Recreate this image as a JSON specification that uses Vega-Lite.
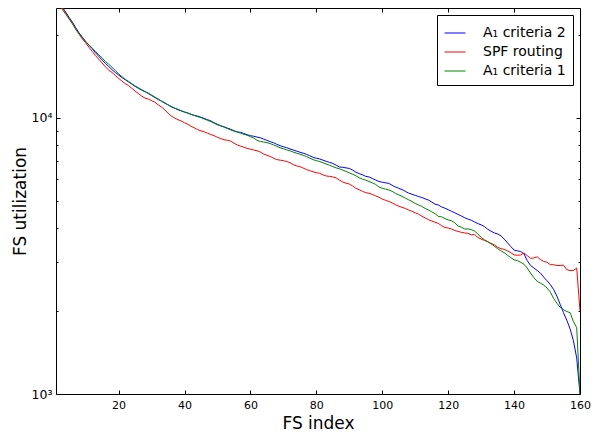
{
  "$schema": "https://vega.github.io/schema/vega-lite/v6.json",
  "width": 524,
  "height": 386,
  "autosize": {"type": "none"},
  "padding": {"left": 56, "top": 8, "right": 26, "bottom": 43},
  "background": "white",
  "config": {
    "view": {"stroke": "black", "strokeWidth": 1},
    "axis": {
      "grid": false, "domain": false, "tickColor": "black", "tickWidth": 1, "labelFlush": false,
      "labelColor": "black", "labelFont": "DejaVu Sans", "labelFontSize": 11,
      "titleFont": "DejaVu Sans", "titleFontSize": 17, "titleFontWeight": "normal", "titleColor": "black"
    }
  },
  "data": {"values": [
{"i":1,"a2":27800,"spf":27800,"a1":26800},{"i":2,"a2":26300,"spf":26500,"a1":25600},{"i":3,"a2":25100,"spf":25000,"a1":24600},{"i":4,"a2":24100,"spf":23900,"a1":23700},{"i":5,"a2":23100,"spf":22900,"a1":22800},
{"i":6,"a2":22200,"spf":22000,"a1":21900},{"i":7,"a2":21200,"spf":20900,"a1":21000},{"i":8,"a2":20300,"spf":20100,"a1":20200},{"i":9,"a2":19600,"spf":19300,"a1":19500},{"i":10,"a2":18900,"spf":18700,"a1":18900},
{"i":11,"a2":18300,"spf":18000,"a1":18400},{"i":12,"a2":17800,"spf":17400,"a1":17900},{"i":13,"a2":17200,"spf":16800,"a1":17400},{"i":14,"a2":16700,"spf":16300,"a1":16900},{"i":15,"a2":16200,"spf":15800,"a1":16500},
{"i":16,"a2":15750,"spf":15300,"a1":16000},{"i":17,"a2":15350,"spf":14900,"a1":15650},{"i":18,"a2":14950,"spf":14600,"a1":15250},{"i":19,"a2":14600,"spf":14250,"a1":14850},{"i":20,"a2":14300,"spf":13900,"a1":14450},
{"i":21,"a2":14000,"spf":13600,"a1":14100},{"i":22,"a2":13750,"spf":13300,"a1":13800},{"i":23,"a2":13500,"spf":13100,"a1":13550},{"i":24,"a2":13250,"spf":12800,"a1":13300},{"i":25,"a2":13000,"spf":12500,"a1":13050},
{"i":26,"a2":12800,"spf":12250,"a1":12850},{"i":27,"a2":12600,"spf":12000,"a1":12650},{"i":28,"a2":12450,"spf":11800,"a1":12450},{"i":29,"a2":12250,"spf":11700,"a1":12300},{"i":30,"a2":12050,"spf":11550,"a1":12100},
{"i":31,"a2":11850,"spf":11400,"a1":11900},{"i":32,"a2":11650,"spf":11150,"a1":11700},{"i":33,"a2":11500,"spf":10950,"a1":11500},{"i":34,"a2":11300,"spf":10700,"a1":11350},{"i":35,"a2":11150,"spf":10400,"a1":11150},
{"i":36,"a2":10950,"spf":10150,"a1":11000},{"i":37,"a2":10850,"spf":9990,"a1":10850},{"i":38,"a2":10700,"spf":9850,"a1":10750},{"i":39,"a2":10600,"spf":9750,"a1":10600},{"i":40,"a2":10500,"spf":9600,"a1":10500},
{"i":41,"a2":10400,"spf":9480,"a1":10420},{"i":42,"a2":10300,"spf":9320,"a1":10300},{"i":43,"a2":10200,"spf":9200,"a1":10200},{"i":44,"a2":10150,"spf":9060,"a1":10100},{"i":45,"a2":10050,"spf":8970,"a1":10020},
{"i":46,"a2":9950,"spf":8900,"a1":9900},{"i":47,"a2":9850,"spf":8800,"a1":9800},{"i":48,"a2":9750,"spf":8700,"a1":9700},{"i":49,"a2":9600,"spf":8620,"a1":9560},{"i":50,"a2":9480,"spf":8500,"a1":9430},
{"i":51,"a2":9350,"spf":8420,"a1":9380},{"i":52,"a2":9280,"spf":8330,"a1":9260},{"i":53,"a2":9180,"spf":8300,"a1":9150},{"i":54,"a2":9100,"spf":8240,"a1":9040},{"i":55,"a2":8980,"spf":8100,"a1":8960},
{"i":56,"a2":8900,"spf":7980,"a1":8880},{"i":57,"a2":8860,"spf":7900,"a1":8800},{"i":58,"a2":8780,"spf":7830,"a1":8720},{"i":59,"a2":8690,"spf":7750,"a1":8650},{"i":60,"a2":8620,"spf":7700,"a1":8550},
{"i":61,"a2":8580,"spf":7650,"a1":8450},{"i":62,"a2":8520,"spf":7600,"a1":8300},{"i":63,"a2":8470,"spf":7520,"a1":8210},{"i":64,"a2":8380,"spf":7400,"a1":8180},{"i":65,"a2":8290,"spf":7320,"a1":8130},
{"i":66,"a2":8200,"spf":7250,"a1":8070},{"i":67,"a2":8130,"spf":7150,"a1":7980},{"i":68,"a2":8020,"spf":7060,"a1":7890},{"i":69,"a2":7930,"spf":7030,"a1":7790},{"i":70,"a2":7860,"spf":7000,"a1":7730},
{"i":71,"a2":7800,"spf":6950,"a1":7660},{"i":72,"a2":7720,"spf":6880,"a1":7600},{"i":73,"a2":7650,"spf":6770,"a1":7520},{"i":74,"a2":7580,"spf":6700,"a1":7450},{"i":75,"a2":7510,"spf":6660,"a1":7390},
{"i":76,"a2":7450,"spf":6580,"a1":7320},{"i":77,"a2":7380,"spf":6500,"a1":7240},{"i":78,"a2":7290,"spf":6440,"a1":7150},{"i":79,"a2":7200,"spf":6380,"a1":7060},{"i":80,"a2":7140,"spf":6330,"a1":7000},
{"i":81,"a2":7100,"spf":6300,"a1":6950},{"i":82,"a2":7030,"spf":6220,"a1":6880},{"i":83,"a2":6960,"spf":6160,"a1":6800},{"i":84,"a2":6900,"spf":6140,"a1":6740},{"i":85,"a2":6840,"spf":6110,"a1":6660},
{"i":86,"a2":6740,"spf":6060,"a1":6590},{"i":87,"a2":6640,"spf":5950,"a1":6540},{"i":88,"a2":6620,"spf":5860,"a1":6470},{"i":89,"a2":6590,"spf":5800,"a1":6400},{"i":90,"a2":6560,"spf":5760,"a1":6320},
{"i":91,"a2":6470,"spf":5670,"a1":6250},{"i":92,"a2":6360,"spf":5560,"a1":6170},{"i":93,"a2":6280,"spf":5490,"a1":6070},{"i":94,"a2":6220,"spf":5420,"a1":6000},{"i":95,"a2":6140,"spf":5360,"a1":5950},
{"i":96,"a2":6110,"spf":5330,"a1":5880},{"i":97,"a2":6030,"spf":5280,"a1":5820},{"i":98,"a2":5960,"spf":5220,"a1":5740},{"i":99,"a2":5880,"spf":5160,"a1":5620},{"i":100,"a2":5850,"spf":5080,"a1":5560},
{"i":101,"a2":5820,"spf":5030,"a1":5520},{"i":102,"a2":5790,"spf":4980,"a1":5480},{"i":103,"a2":5700,"spf":4920,"a1":5420},{"i":104,"a2":5620,"spf":4850,"a1":5330},{"i":105,"a2":5560,"spf":4790,"a1":5260},
{"i":106,"a2":5500,"spf":4740,"a1":5200},{"i":107,"a2":5420,"spf":4700,"a1":5120},{"i":108,"a2":5340,"spf":4640,"a1":5050},{"i":109,"a2":5290,"spf":4590,"a1":4980},{"i":110,"a2":5240,"spf":4530,"a1":4900},
{"i":111,"a2":5190,"spf":4480,"a1":4840},{"i":112,"a2":5150,"spf":4410,"a1":4780},{"i":113,"a2":5090,"spf":4340,"a1":4700},{"i":114,"a2":5040,"spf":4280,"a1":4640},{"i":115,"a2":4960,"spf":4230,"a1":4570},
{"i":116,"a2":4870,"spf":4190,"a1":4500},{"i":117,"a2":4840,"spf":4150,"a1":4400},{"i":118,"a2":4760,"spf":4070,"a1":4380},{"i":119,"a2":4710,"spf":4010,"a1":4320},{"i":120,"a2":4650,"spf":3990,"a1":4270},
{"i":121,"a2":4590,"spf":3960,"a1":4240},{"i":122,"a2":4530,"spf":3910,"a1":4170},{"i":123,"a2":4470,"spf":3880,"a1":4060},{"i":124,"a2":4410,"spf":3850,"a1":4020},{"i":125,"a2":4350,"spf":3830,"a1":3960},
{"i":126,"a2":4300,"spf":3820,"a1":3960},{"i":127,"a2":4260,"spf":3770,"a1":3940},{"i":128,"a2":4200,"spf":3780,"a1":3890},{"i":129,"a2":4140,"spf":3690,"a1":3800},{"i":130,"a2":4100,"spf":3640,"a1":3690},
{"i":131,"a2":4040,"spf":3600,"a1":3620},{"i":132,"a2":3950,"spf":3560,"a1":3560},{"i":133,"a2":3890,"spf":3510,"a1":3500},{"i":134,"a2":3830,"spf":3470,"a1":3430},{"i":135,"a2":3800,"spf":3400,"a1":3360},
{"i":136,"a2":3740,"spf":3360,"a1":3300},{"i":137,"a2":3640,"spf":3340,"a1":3250},{"i":138,"a2":3530,"spf":3300,"a1":3180},{"i":139,"a2":3420,"spf":3250,"a1":3120},{"i":140,"a2":3320,"spf":3190,"a1":3060},
{"i":141,"a2":3300,"spf":3180,"a1":3040},{"i":142,"a2":3280,"spf":3190,"a1":3000},{"i":143,"a2":3220,"spf":3240,"a1":2950},{"i":144,"a2":3040,"spf":3170,"a1":2860},{"i":145,"a2":2920,"spf":3100,"a1":2740},
{"i":146,"a2":2860,"spf":3110,"a1":2640},{"i":147,"a2":2800,"spf":3140,"a1":2560},{"i":148,"a2":2740,"spf":3070,"a1":2520},{"i":149,"a2":2650,"spf":3020,"a1":2480},{"i":150,"a2":2570,"spf":3000,"a1":2420},
{"i":151,"a2":2490,"spf":2940,"a1":2340},{"i":152,"a2":2390,"spf":2940,"a1":2220},{"i":153,"a2":2260,"spf":2920,"a1":2130},{"i":154,"a2":2110,"spf":2920,"a1":2060},{"i":155,"a2":1970,"spf":2930,"a1":2020},
{"i":156,"a2":1850,"spf":2820,"a1":1990},{"i":157,"a2":1720,"spf":2800,"a1":1970},{"i":158,"a2":1560,"spf":2800,"a1":1830},{"i":159,"a2":1350,"spf":2860,"a1":1740},{"i":160,"a2":1000,"spf":2000,"a1":1000}
  ]},
  "transform": [{"fold": ["a2", "spf", "a1"], "as": ["series", "value"]}],
  "layer": [
    {
      "mark": {"type": "line", "strokeWidth": 1, "clip": true},
      "encoding": {
        "x": {
          "field": "i", "type": "quantitative",
          "scale": {"domain": [1, 160], "nice": false, "zero": false},
          "axis": {"orient": "bottom", "values": [20, 40, 60, 80, 100, 120, 140, 160], "tickSize": -4, "labelPadding": 9, "title": "FS index", "titlePadding": 5}
        },
        "y": {
          "field": "value", "type": "quantitative",
          "scale": {"type": "log", "domain": [1000, 25000], "nice": false},
          "axis": {
            "orient": "left",
            "values": [1000, 2000, 3000, 4000, 5000, 6000, 7000, 8000, 9000, 10000, 20000],
            "labelExpr": "datum.value == 1000 ? '10³' : (datum.value == 10000 ? '10⁴' : '')",
            "labelFontSize": 12.5,
            "tickSize": {"condition": {"test": "datum.value == 1000 || datum.value == 10000", "value": -4}, "value": -2},
            "labelPadding": 8,
            "title": "FS utilization",
            "titlePadding": 2
          }
        },
        "color": {
          "field": "series", "type": "nominal",
          "scale": {"domain": ["a2", "spf", "a1"], "range": ["#0000ff", "#ff0000", "#008000"]},
          "legend": {
            "orient": "top-right", "offset": 7, "title": null,
            "labelExpr": "datum.label == 'a2' ? 'A₁ criteria 2' : (datum.label == 'spf' ? 'SPF routing' : 'A₁ criteria 1')",
            "symbolType": "stroke", "symbolSize": 441, "symbolStrokeWidth": 1,
            "labelFont": "DejaVu Sans", "labelFontSize": 14, "labelColor": "black", "labelOffset": 17,
            "strokeColor": "black", "fillColor": "white", "padding": 7, "rowPadding": 1, "cornerRadius": 0
          }
        }
      }
    },
    {
      "mark": {"type": "point", "opacity": 0},
      "encoding": {
        "x": {
          "field": "i", "type": "quantitative",
          "axis": {"orient": "top", "values": [20, 40, 60, 80, 100, 120, 140, 160], "tickSize": -4, "labels": false, "title": null}
        },
        "y": {
          "field": "value", "type": "quantitative",
          "axis": {
            "orient": "right",
            "values": [1000, 2000, 3000, 4000, 5000, 6000, 7000, 8000, 9000, 10000, 20000],
            "tickSize": {"condition": {"test": "datum.value == 1000 || datum.value == 10000", "value": -4}, "value": -2},
            "labels": false, "title": null
          }
        }
      }
    }
  ],
  "resolve": {"axis": {"x": "independent", "y": "independent"}}
}
